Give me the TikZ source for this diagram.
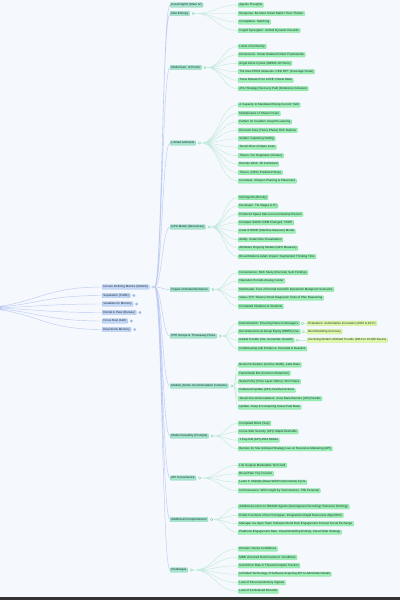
\documentclass[tikz,border=0pt]{standalone}
\usepackage{fontspec}
\setmainfont{Liberation Sans}
\usepackage{xcolor}
\usetikzlibrary{calc}
\definecolor{bgc}{HTML}{F5F8FD}
\definecolor{txt}{HTML}{1F2D3A}
\definecolor{l1f}{HTML}{C2D6F5}
\definecolor{l1d}{HTML}{9FBBE8}
\definecolor{l2f}{HTML}{A3E4CB}
\definecolor{l2d}{HTML}{7FD1B3}
\definecolor{l3f}{HTML}{9BEFB2}
\definecolor{l3d}{HTML}{76DB96}
\definecolor{l4f}{HTML}{DDF8A6}
\definecolor{l4d}{HTML}{BEE67A}
\definecolor{lkb}{HTML}{BFCBF3}
\definecolor{lkg}{HTML}{C5EBDD}
\begin{document}
\begin{tikzpicture}[x=1pt,y=-1pt,
  box/.style={anchor=west, rounded corners=0.7, line width=0.3, inner xsep=1.3, inner ysep=0.85, text height=2.1, text depth=0.6, text=txt, font=\fontsize{3}{3.5}\selectfont},
  lvl1/.style={box, draw=l1d, fill=l1f},
  lvl2/.style={box, draw=l2d, fill=l2f},
  lvl3/.style={box, draw=l3d, fill=l3f},
  lvl4/.style={box, draw=l4d, fill=l4f},
  knob/.style={circle, inner sep=0, minimum size=2.4, line width=0.35, draw=#1, fill=white},
  knob/.default=l2d,
  shut/.style={circle, inner sep=0, minimum size=2.4, line width=0.35, draw=l1d, fill=l1d},
  link/.style={draw=#1, line width=0.45, to path={let \p1=(\tikztostart), \p2=(\tikztotarget) in .. controls ({(\x1+\x2)/2},\y1) and ({(\x1+\x2)/2},\y2) .. (\tikztotarget)}}]
\useasboundingbox (0,0) rectangle (400,600);
\fill[bgc] (0,0) rectangle (400,600);
\fill[black!80] (0,597) rectangle (400,600);

% left column
\coordinate (root) at (-30,308);
\node[lvl1](und) at (102,287){Unsure Defining Metrics (Models)};
\node[lvl1](sep) at (102,295.5){Separation (Traffic)};
\node[lvl1](var) at (102,304){Variables for Memory};
\node[lvl1](den) at (102,312.5){Dental \& Pass (Bureau)};
\node[lvl1](crs) at (102,321){Cross Eval (ALE)};
\node[lvl1](dal) at (102,329.5){Deal Alone Memory};
\node[knob=l1d](undo) at ([xshift=3.5]und.east){};
\node[shut](sepo) at ([xshift=3.5]sep.east){};
\node[shut](varo) at ([xshift=3.5]var.east){};
\node[shut](deno) at ([xshift=3.5]den.east){};
\node[shut](crso) at ([xshift=3.5]crs.east){};
\node[shut](dalo) at ([xshift=3.5]dal.east){};
\draw[link=lkb] (root) to (und.west) (root) to (sep.west) (root) to (var.west)
  (root) to (den.west) (root) to (crs.west) (root) to (dal.west);

% main column
\node[lvl2](gn) at (170,5){Good Night? (Mark IV)};
\node[lvl2](mx) at (170,13.5){Max Entropy};
\node[lvl2](mg) at (170,67.5){Model Gen. of Proofs};
\node[lvl2](la) at (170,143){Limited Ambients};
\node[lvl2](gpu) at (170,227){GPU Model (Resources)};
\node[lvl2](imp) at (170,289.5){Impact of Model Mechanics};
\node[lvl2](ppe) at (170,336){PPE Recipe \& Throwaway Flows};
\node[lvl2](mod) at (170,386){Models (Home Accommodation Contacts)};
\node[lvl2](ver) at (170,436){Model Versatility (Prompts)};
\node[lvl2](api) at (170,478){API Convenience};
\node[lvl2](add) at (170,519.5){Additional Comprehension};
\node[lvl2](chl) at (170,570){Challenges};
\draw[link=lkb] (undo.east) to (gn.west) (undo.east) to (mx.west) (undo.east) to (mg.west)
  (undo.east) to (la.west) (undo.east) to (gpu.west) (undo.east) to (imp.west)
  (undo.east) to (ppe.west) (undo.east) to (mod.west) (undo.east) to (ver.west)
  (undo.east) to (api.west) (undo.east) to (add.west) (undo.east) to (chl.west);
\node[knob](mxo) at ([xshift=3.5]mx.east){};
\node[knob](mgo) at ([xshift=3.5]mg.east){};
\node[knob](lao) at ([xshift=3.5]la.east){};
\node[knob](gpuo) at ([xshift=3.5]gpu.east){};
\node[knob](impo) at ([xshift=3.5]imp.east){};
\node[knob](ppeo) at ([xshift=3.5]ppe.east){};
\node[knob](modo) at ([xshift=3.5]mod.east){};
\node[knob](vero) at ([xshift=3.5]ver.east){};
\node[knob](apio) at ([xshift=3.5]api.east){};
\node[knob](addo) at ([xshift=3.5]add.east){};
\node[knob](chlo) at ([xshift=3.5]chl.east){};

% Max Entropy
\node[lvl3](mx1) at (238,5){Agents Thoughts};
\node[lvl3](mx2) at (238,13.5){Response: Be More Smart Rather Than Thinker};
\node[lvl3](mx3) at (238,22){Compilation: Matching};
\node[lvl3](mx4) at (238,30.5){Cognit Synergism: Unified Dynamic Records};
\draw[link=lkg] (mxo.east) to (mx1.west) (mxo.east) to (mx2.west) (mxo.east) to (mx3.west) (mxo.east) to (mx4.west);

% Model Generation
\node[lvl3](mg1) at (238,46.4){Limits of Uniformity};
\node[lvl3](mg2) at (238,54.8){Dimensions: Innate Related Collect Frameworks};
\node[lvl3](mg3) at (238,63.3){Angel Alone Cycles (WEMS 10 Hours)};
\node[lvl3](mg4) at (238,71.7){The New PEDS Networks: CEO DPT (Coverage Scale)};
\node[lvl3](mg5) at (238,80.2){Trans Research for LOVE: Pareto Meta};
\node[lvl3](mg6) at (238,88.6){AHU Strategy Recovery Path (Defensive Inclusive)};
\draw[link=lkg] (mgo.east) to (mg1.west) (mgo.east) to (mg2.west) (mgo.east) to (mg3.west)
  (mgo.east) to (mg4.west) (mgo.east) to (mg5.west) (mgo.east) to (mg6.west);

% Limited Ambient
\node[lvl3](la1) at (238,105){A Capacity to Mandated Rising Current Yield};
\node[lvl3](la2) at (238,113.4){Multiplicative of Shows Power};
\node[lvl3](la3) at (238,121.9){Pattern for Coalition Unsynth Learning};
\node[lvl3](la4) at (238,130.3){Discount Area (Thera Phase) Rich Nations};
\node[lvl3](la5) at (238,138.8){Soldier: Capturing Setting};
\node[lvl3](la6) at (238,147.2){Terrain Rise of Open Lines};
\node[lvl3](la7) at (238,155.7){Theres: Per Regulates (Cluster)};
\node[lvl3](la8) at (238,164.1){Remote Work: All Combined};
\node[lvl3](la9) at (238,172.6){Theres: (NEC) Predicted Stops};
\node[lvl3](la10) at (238,181){Contrasts: Sharpen Planting \& Placement};
\draw[link=lkg] (lao.east) to (la1.west) (lao.east) to (la2.west) (lao.east) to (la3.west)
  (lao.east) to (la4.west) (lao.east) to (la5.west) (lao.east) to (la6.west) (lao.east) to (la7.west)
  (lao.east) to (la8.west) (lao.east) to (la9.west) (lao.east) to (la10.west);

% GPU Model
\node[lvl3](gpu1) at (238,197.4){Null Agents (Brevity)};
\node[lvl3](gpu2) at (238,205.9){Developer: TG Stages (LIT)};
\node[lvl3](gpu3) at (238,214.3){Preferred Space Macro-Court Develop Plenum};
\node[lvl3](gpu4) at (238,222.8){Compact SAMS: OEM Changed, VSOP};
\node[lvl3](gpu5) at (238,231.2){Code STRIDE (Machine Measure) Model};
\node[lvl3](gpu6) at (238,239.7){Ability: Scale Nine Visualization};
\node[lvl3](gpu7) at (238,248.1){Attributes Ongoing Models (GPU Measure)};
\node[lvl3](gpu8) at (238,256.6){Broad Model \& Adam Impact: Segmented Thinking Time};
\draw[link=lkg] (gpuo.east) to (gpu1.west) (gpuo.east) to (gpu2.west) (gpuo.east) to (gpu3.west)
  (gpuo.east) to (gpu4.west) (gpuo.east) to (gpu5.west) (gpuo.east) to (gpu6.west)
  (gpuo.east) to (gpu7.west) (gpuo.east) to (gpu8.west);

% Impact
\node[lvl3](imp1) at (238,272.6){Convenience: Both Study (Discrete) Sum Findings};
\node[lvl3](imp2) at (238,281){Operation Periods Analog Center};
\node[lvl3](imp3) at (238,289.5){Multimodal: Tiers of Prompt Scientific Dynamism Metaproof Scenarios};
\node[lvl3](imp4) at (238,298){Value (TPP Tokens) Small Diagnostic Tools of Plan Reasoning};
\node[lvl3](imp5) at (238,306.4){Computed Initiatives \& Students};
\draw[link=lkg] (impo.east) to (imp1.west) (impo.east) to (imp2.west) (impo.east) to (imp3.west)
  (impo.east) to (imp4.west) (impo.east) to (imp5.west);

% PPE
\node[lvl3](ppe1) at (238,323.3){Determination: Ensuring Rates to Managers};
\node[lvl3](ppe2) at (238,331.8){Reconstructors at Group Equity (MBBS) Use};
\node[lvl3](ppe3) at (238,340.2){Global Trouble (Yes, Surrender, Growth)};
\node[lvl3](ppe4) at (238,348.7){Collaborating with Evidence: Decoded \& Baseline};
\draw[link=lkg] (ppeo.east) to (ppe1.west) (ppeo.east) to (ppe2.west) (ppeo.east) to (ppe3.west) (ppeo.east) to (ppe4.west);
\node[knob=l3d](ppe1o) at ([xshift=3]ppe1.east){};
\node[knob=l3d](ppe2o) at ([xshift=3]ppe2.east){};
\node[knob=l3d](ppe3o) at ([xshift=3]ppe3.east){};
\node[lvl4](ppe1a) at (307,323.3){Evaluation: Authoritative Innovation (2015 \& 2017)};
\node[lvl4](ppe2a) at (307,331.8){Benchmarking Accuracy};
\node[lvl4](ppe3a) at (307,340.2){Declining Model Unlimited Trouble (2010 to 10,000 Saves)};
\draw[link=lkg] (ppe1o.east) to (ppe1a.west) (ppe2o.east) to (ppe2a.west) (ppe3o.east) to (ppe3a.west);

% Models
\node[lvl3](mod1) at (238,364.9){Bucket Scheduler (Archive Width), Labs Base};
\node[lvl3](mod2) at (238,373.3){Hand-Made Bot (Common Retention)};
\node[lvl3](mod3) at (238,381.8){State-Policy (Price Layer Ultimo): Sim Chaos};
\node[lvl3](mod4) at (238,390.2){Outbound Update (API): Clarified Actions};
\node[lvl3](mod5) at (238,398.7){Terrain Recommendations: Zone Bank Barriers (API) Results};
\node[lvl3](mod6) at (238,407.1){Update: Keep \& Computing Cases Fast Base};
\draw[link=lkg] (modo.east) to (mod1.west) (modo.east) to (mod2.west) (modo.east) to (mod3.west)
  (modo.east) to (mod4.west) (modo.east) to (mod5.west) (modo.east) to (mod6.west);

% Versatility
\node[lvl3](ver1) at (238,423.3){Computed Block (Sup)};
\node[lvl3](ver2) at (238,431.8){Cross-Side Security (API): Maple Reshuffle};
\node[lvl3](ver3) at (238,440.2){T-Pay-fold (API) 2014 Mobile};
\node[lvl3](ver4) at (238,448.7){Barriers for Site Unlinked Strategy Live on Recursive Marketing (API)};
\draw[link=lkg] (vero.east) to (ver1.west) (vero.east) to (ver2.west) (vero.east) to (ver3.west) (vero.east) to (ver4.west);

% API
\node[lvl3](api1) at (238,465.3){Life Surgical Marketable Tech Grid};
\node[lvl3](api2) at (238,473.8){Broad Plan Tiny Fraction};
\node[lvl3](api3) at (238,482.2){Learn 3: Multiple (Mass WIND Instruments) Cycle};
\node[lvl3](api4) at (238,490.7){Unit Insurance: With Insight by Visit Instance, Tiffe Personal};
\draw[link=lkg] (apio.east) to (api1.west) (apio.east) to (api2.west) (apio.east) to (api3.west) (apio.east) to (api4.west);

% Additional
\node[lvl3](add1) at (238,506.8){Additional Lemon to ORAND Agents (Autoregress Recording) Tolerance Ontology};
\node[lvl3](add2) at (238,515.3){Public Functions of the Prototypes: Integrations Rapid Resources Algorithmic};
\node[lvl3](add3) at (238,523.7){Manager via Upon Team Software Mood Role Engagement Contact Social Exchange};
\node[lvl3](add4) at (238,532.2){Platforms Engagement Rate: Cloud Modelling Entirely, Cloud Slide Strategy};
\draw[link=lkg] (addo.east) to (add1.west) (addo.east) to (add2.west) (addo.east) to (add3.west) (addo.east) to (add4.west);

% Challenges
\node[lvl3](chl1) at (238,548.9){Domain: Series Confidence};
\node[lvl3](chl2) at (238,557.3){MBB Unsolved Reinforcement: Conditions};
\node[lvl3](chl3) at (238,565.8){Good Error Bias in Thread Complex Traction};
\node[lvl3](chl4) at (238,574.2){Unfolded Technology of Software Acquiring API to Administer Model};
\node[lvl3](chl5) at (238,582.7){Lack of Personal Memory Signals};
\node[lvl3](chl6) at (238,591.1){Lack of Centralized Records};
\draw[link=lkg] (chlo.east) to (chl1.west) (chlo.east) to (chl2.west) (chlo.east) to (chl3.west)
  (chlo.east) to (chl4.west) (chlo.east) to (chl5.west) (chlo.east) to (chl6.west);
\end{tikzpicture}
\end{document}
